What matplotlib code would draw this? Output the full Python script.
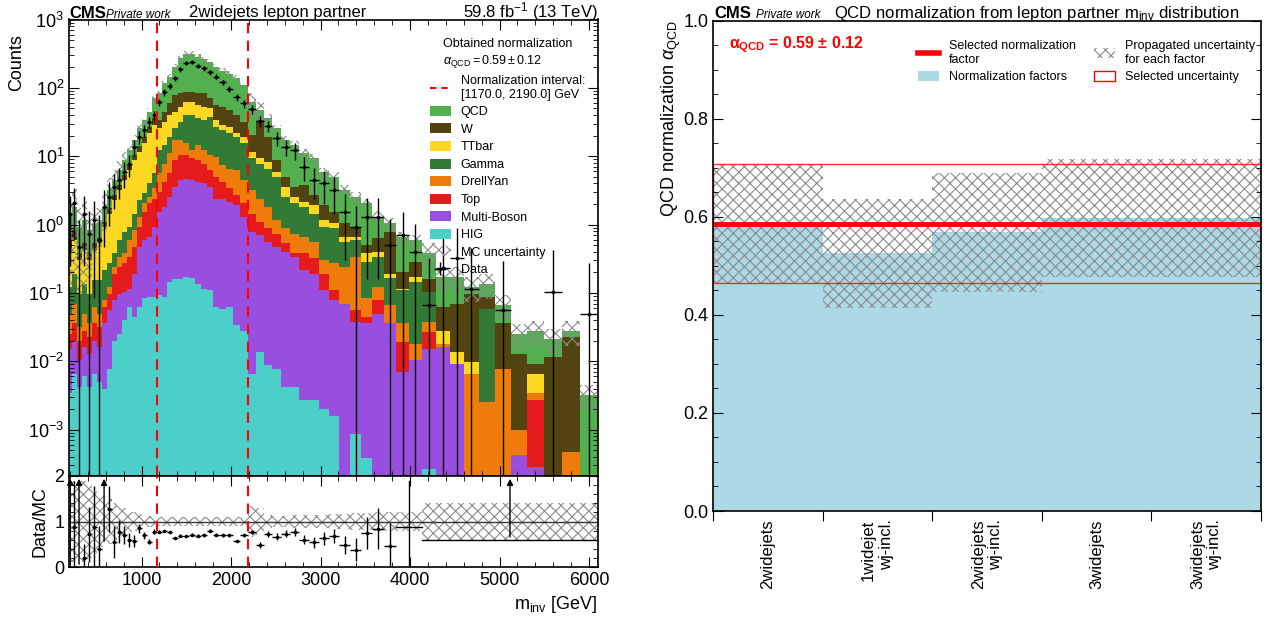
import numpy as np
import matplotlib
matplotlib.use("Agg")
import matplotlib.pyplot as plt
from matplotlib.patches import Patch
from matplotlib.lines import Line2D
from matplotlib.ticker import MultipleLocator, LogLocator, NullFormatter, FixedLocator

plt.rcParams.update({
    'font.family': ['Liberation Sans', 'DejaVu Sans'],
    'mathtext.fontset': 'custom',
    'mathtext.rm': 'Liberation Sans',
    'mathtext.it': 'Liberation Sans:italic',
    'mathtext.bf': 'Liberation Sans:bold',
    'mathtext.sf': 'Liberation Sans',
    'hatch.linewidth': 0.8,
    'xtick.direction': 'in', 'ytick.direction': 'in',
    'xtick.top': True, 'ytick.right': True,
    'xtick.major.size': 7, 'ytick.major.size': 7,
    'xtick.minor.size': 3.5, 'ytick.minor.size': 3.5,
    'xtick.labelsize': 13, 'ytick.labelsize': 13,
    'axes.labelsize': 13,
    'axes.linewidth': 1.2,
})

# ---------------- left panel data ----------------
edges = [190, 218, 274, 330, 386, 442, 498, 554, 610, 666, 722, 778, 834, 890, 946, 1002,
         1058, 1114, 1170, 1226, 1284, 1344, 1404, 1466, 1530, 1594, 1660, 1728, 1798, 1870,
         1944, 2020, 2104, 2190, 2280, 2370, 2462, 2560, 2660, 2764, 2870, 2980, 3094, 3210,
         3330, 3454, 3580, 3710, 3846, 3986, 4134, 4286, 4442, 4602, 4770, 4944, 5124, 5310,
         5500, 5694, 5894, 6100]

# cumulative stack levels (top of each process after stacking), bottom -> top
lvl_hig = [0.0034, 0.0066, 0.0042, 0.006, 0.0042, 0.0066, 0.0050, 0.0040, 0.0078, 0.020,
           0.025, 0.040, 0.062, 0.045, 0.062, 0.083, 0.087, 0.087, 0.092, 0.087,
           0.145, 0.162, 0.162, 0.17, 0.168, 0.137, 0.116, 0.110, 0.062, 0.059,
           0.062, 0.034, 0.028, 0.0066, 0.0137, 0.0087, 0.0078, 0.0042, 0.0042, 0.0027,
           0.0027, 0.0020, 0.0016, 0, 0.00087, 0.00038, 0, 0, 0, 0,
           0.00027, 0, 0, 0, 0, 0, 0, 0, 0, 0, 0]
lvl_mb = [0.015, 0.020, 0.0103, 0.016, 0.013, 0.020, 0.016, 0.036, 0.056, 0.078,
          0.098, 0.104, 0.116, 0.19, 0.47, 0.59, 0.66, 0.93, 1.54, 1.82,
          2.55, 3.6, 4.5, 4.7, 4.5, 4.2, 4.0, 3.6, 2.4, 2.33,
          2.15, 1.92, 1.30, 0.78, 0.70, 0.56, 0.47, 0.40, 0.34, 0.215,
          0.19, 0.110, 0.078, 0.070, 0.038, 0.036, 0.050, 0.036, 0.0070, 0.0103,
          0.015, 0.016, 0.0092, 0, 0, 0, 0.00042, 0.00028, 0, 0, 0]
lvl_top = [0.025, 0.036, 0.020, 0.028, 0.023, 0.036, 0.032, 0.0625, 0.098, 0.19,
           0.24, 0.27, 0.34, 0.47, 0.93, 1.54, 2.04, 2.4, 3.0, 4.2,
           5.6, 8.8, 10.4, 10.4, 9.3, 8.8, 7.8, 6.3, 5.0, 4.2,
           3.4, 2.7, 2.04, 1.45, 1.10, 0.88, 0.74, 0.53, 0.38, 0.38,
           0.32, 0.19, 0.110, 0.070, 0.056, 0.045, 0.078, 0.036, 0.019, 0.0103,
           0.027, 0.016, 0.0092, 0, 0, 0, 0.00042, 0.0027, 0, 0, 0]
lvl_dy = [0.05, 0.070, 0.032, 0.050, 0.036, 0.062, 0.050, 0.078, 0.122, 0.24,
          0.34, 0.38, 0.59, 0.83, 1.30, 2.04, 2.55, 3.4, 5.6, 7.8,
          11.0, 17.2, 17.2, 15.4, 12.3, 14.6, 12.3, 10.4, 9.8, 7.4,
          6.6, 6.3, 4.5, 3.2, 2.4, 1.82, 1.16, 0.88, 0.74, 0.66,
          0.56, 0.30, 0.27, 0.24, 0.34, 0.083, 0.122, 0.066, 0.036, 0.018,
          0.038, 0.018, 0.0092, 0.0066, 0.0025, 0.0078, 0.0010, 0.0034, 0, 0.00047, 0]
lvl_gamma = [0.122, 0.19, 0.098, 0.137, 0.098, 0.153, 0.153, 0.215, 0.27, 0.38,
             0.59, 0.78, 0.93, 1.45, 2.28, 2.85, 4.0, 5.6, 12.3, 14.6,
             19.3, 25.5, 31.9, 40, 40, 35.7, 33.8, 37.8, 27.0, 24.1,
             21.6, 19.3, 15.4, 9.3, 7.8, 6.6, 5.0, 2.55, 2.04, 1.82,
             1.45, 0.93, 0.88, 0.56, 0.59, 0.285, 0.34, 0.168, 0.110, 0.145,
             0.104, 0.018, 0.0092, 0.0066, 0.059, 0.0078, 0.0010, 0.0034, 0, 0.00047, 0]
lvl_tt = [0.38, 0.59, 0.30, 0.43, 0.30, 0.43, 0.53, 0.93, 1.45, 2.28,
          3.2, 4.5, 6.3, 8.8, 11.6, 15.4, 21.6, 28.5, 25.5, 31.9,
          40, 44.8, 53, 62.7, 62.7, 56, 53, 50, 33.8, 28.5,
          27.0, 21.6, 19.3, 11.6, 9.3, 8.3, 5.9, 3.6, 2.55, 2.15,
          1.92, 1.16, 1.04, 0.66, 0.66, 0.38, 0.40, 0.19, 0.116, 0.17,
          0.104, 0.028, 0.0137, 0.0098, 0.059, 0.0078, 0.0010, 0.0066, 0, 0.00047, 0]
lvl_w = [0.59, 0.83, 0.38, 0.53, 0.38, 0.53, 0.63, 1.10, 1.72, 2.7,
         3.8, 5.3, 7.4, 10.4, 14.2, 19.3, 26.5, 35.7, 33.8, 44.8,
         59.3, 78.5, 83, 88, 88, 83, 83, 70, 56, 53,
         47.3, 40, 31.9, 20.4, 33.8, 19.3, 8.8, 5.0, 3.6, 3.8,
         2.7, 1.92, 1.54, 1.04, 0.93, 0.50, 0.63, 0.78, 0.20, 0.285,
         0.162, 0.0625, 0.070, 0.098, 0.087, 0.036, 0.013, 0.0092, 0.0116, 0.023, 0]
lvl_qcd = [1.30, 1.82, 0.93, 1.16, 0.83, 1.04, 1.10, 1.82, 3.2, 4.5,
           6.3, 8.8, 12.3, 17.2, 25.5, 33.8, 44.8, 70, 83, 116,
           146, 204, 270, 313, 313, 286, 261, 241, 204, 178,
           159, 138, 110, 62.7, 47.3, 35.7, 25.5, 17.2, 14.6, 11.0,
           9.3, 5.9, 5.0, 3.2, 2.55, 2.04, 1.30, 1.04, 0.66, 0.59,
           0.38, 0.17, 0.17, 0.122, 0.137, 0.066, 0.025, 0.028, 0.021, 0.028, 0.0032]

data_counts = [1.45, 2.04, 0.47, 1.45, 0.74, 1.16, 0.59, 1.82, 2.55, 3.6,
               4.5, 5.9, 7.8, 13.7, 19.3, 24.1, 31.9, 40, 61.2, 86,
               107, 138, 187, 228, 236, 208, 193, 169, 146, 120,
               96, 72.6, 59.3, 48.4, 32.7, 27.6, 18.2, 13.7, 12.3, 7.0,
               4.5, 4.0, 3.2, 1.54, 0.93, 1.30, 1.30, 0.50, 0.70, 0.40,
               0.066, 0.23, 0.32, 0.116, 0, 0.056, 0, 0, 0.104, 0, 0.050]

mc_rel_unc = [0.9, 0.9, 0.9, 0.9, 0.8, 0.7, 0.6, 0.55, 0.5, 0.4,
              0.35, 0.3, 0.22, 0.2, 0.17, 0.15, 0.13, 0.12, 0.1, 0.1,
              0.1, 0.1, 0.1, 0.1, 0.1, 0.1, 0.1, 0.1, 0.1, 0.1,
              0.1, 0.1, 0.1, 0.35, 0.3, 0.15, 0.13, 0.13, 0.14, 0.15,
              0.15, 0.15, 0.16, 0.17, 0.18, 0.18, 0.2, 0.2, 0.2, 0.2,
              0.4, 0.4, 0.4, 0.4, 0.4, 0.4, 0.4, 0.4, 0.4, 0.4, 0.4]

# ratio panel, per bin from the first bin
ratio_vals = [3.0, 0.88, 3.0, 0.20, 0.72, 0.88, 0.40, 3.0, 1.27, 0.55,
              0.78, 0.70, 0.60, 0.58, 0.85, 0.70, 0.56, 0.78, 0.78, 0.79,
              0.77, 0.64, 0.69, 0.68, 0.71, 0.69, 0.70, 0.80, 0.71, 0.70,
              0.70, 0.57, 0.70, 0.77, 0.48, 0.73, 0.67, 0.73, 0.77, 0.60,
              0.54, 0.63, 0.68, 0.48, 0.38, 0.75, 0.84, 0.46]
ratio_errs = [3.0, 1.0, 3.0, 0.3, 0.6, 0.9, 0.5, 2.5, 0.5, 0.35,
              0.25, 0.2, 0.15, 0.13, 0.1, 0.08, 0.06, 0.05, 0.03, 0.03,
              0.03, 0.03, 0.03, 0.03, 0.03, 0.03, 0.03, 0.03, 0.03, 0.03,
              0.03, 0.03, 0.03, 0.05, 0.06, 0.06, 0.07, 0.08, 0.08, 0.1,
              0.12, 0.14, 0.15, 0.2, 0.25, 0.35, 0.45, 0.5]
# merged tail bins of the ratio panel
ratio_tail_lo = [3846, 4134]
ratio_tail_hi = [4134, 6100]
ratio_tail_val = [0.88, 0.60]
ratio_tail_err_dn = [0.88, 0.0]
ratio_tail_err_up = [1.0, 5.0]

norm_interval = [1170.0, 2190.0]

processes = ['HIG', 'Multi-Boson', 'Top', 'DrellYan', 'Gamma', 'TTbar', 'W', 'QCD']
colors = ['#4ccfc9', '#9a4ee0', '#e41a1c', '#ef7b0b', '#337a37', '#fcd920', '#524310', '#52b04f']
levels = [lvl_hig, lvl_mb, lvl_top, lvl_dy, lvl_gamma, lvl_tt, lvl_w, lvl_qcd]

# ---------------- right panel data ----------------
categories = ['2widejets', '1widejet\nwj-incl.', '2widejets\nwj-incl.', '3widejets', '3widejets\nwj-incl.']
norm_factors = [0.586, 0.525, 0.568, 0.597, 0.597]
norm_unc = [0.122, 0.112, 0.122, 0.120, 0.120]
selected_norm = 0.586
selected_unc = 0.122

# ---------------- figure ----------------
W, H = 1285, 618
fig = plt.figure(figsize=(W / 100, H / 100), dpi=100)

def box(x0, y0, x1, y1):
    return [x0 / W, 1 - y1 / H, (x1 - x0) / W, (y1 - y0) / H]

ax = fig.add_axes(box(69, 19.5, 598, 476))
rax = fig.add_axes(box(69, 476, 598, 567), sharex=ax)
bx = fig.add_axes(box(713, 20.5, 1261, 511))

e = np.array(edges, float)
centers = 0.5 * (e[1:] + e[:-1])
halfw = 0.5 * (e[1:] - e[:-1])

floor = 1e-7
prev = np.full(len(centers), floor)
for lv, col in zip(levels, colors):
    top = np.maximum(np.array(lv, float), prev)
    ax.stairs(top, e, baseline=prev, fill=True, color=col, lw=0)
    prev = top
total = prev
unc = np.array(mc_rel_unc)
lo = total * (1 - unc)
hi = total * (1 + unc)
ax.fill_between(e, np.append(lo, lo[-1]), np.append(hi, hi[-1]), step='post',
                facecolor='none', edgecolor='#8a8a8a', hatch='xxx', lw=0)

d = np.array(data_counts, float)
m = d > 0
derr = np.sqrt(d[m])
dlo = np.minimum(derr, d[m] - 1e-6)
eb = ax.errorbar(centers[m], d[m], xerr=halfw[m], yerr=[dlo, derr], fmt='o', ms=1.6,
                 color='k', lw=1, capsize=0)

for xv in norm_interval:
    ax.axvline(xv, color='red', ls=(0, (5, 3.5)), lw=1.5, zorder=5)
    rax.axvline(xv, color='red', ls=(0, (5, 3.5)), lw=1.5, zorder=5)

ax.set_yscale('log')
ax.set_ylim(2.1e-4, 1e3)
ax.set_xlim(190, 6100)
ax.yaxis.set_major_locator(FixedLocator([1e-3, 1e-2, 1e-1, 1e0, 1e1, 1e2, 1e3]))
ax.yaxis.set_minor_locator(LogLocator(base=10, subs=np.arange(2, 10), numticks=50))
ax.yaxis.set_minor_formatter(NullFormatter())
ax.xaxis.set_major_locator(FixedLocator([1000, 2000, 3000, 4000, 5000, 6000]))
ax.xaxis.set_minor_locator(MultipleLocator(200))
ax.tick_params(axis='x', which='both', labelbottom=False)
ax.set_ylabel('Counts', loc='top', labelpad=2)
ax.yaxis.label.set_y(0.968)

# legend left
leg_handles = [Line2D([], [], color='red', ls=(0, (3, 2.5)), lw=1.5)]
leg_labels = ['Normalization interval:\n[1170.0, 2190.0] GeV']
for p, c in zip(processes[::-1], colors[::-1]):
    leg_handles.append(Patch(facecolor=c, edgecolor='none'))
    leg_labels.append(p)
leg_handles.append(Patch(facecolor='none', edgecolor='#8a8a8a', hatch='xxx', lw=0))
leg_labels.append('MC uncertainty')
leg_handles.append(eb)
leg_labels.append('Data')
ax.legend(leg_handles, leg_labels, loc='upper right', bbox_to_anchor=(0.99, 0.975),
          fontsize=9, title='Obtained normalization\n$\\alpha_{\\mathrm{QCD}} = 0.59 \\pm 0.12$',
          title_fontsize=9, frameon=False, handlelength=1.7, handleheight=0.85,
          labelspacing=0.42, handletextpad=0.8, borderaxespad=0.2)

# ratio
r = np.array(ratio_vals)
re = np.array(ratio_errs)
nr = len(r)
cr = centers[:nr]
hr = halfw[:nr]
inr = r <= 2
rax.fill_between(e, np.append(1 - unc, 1 - unc[-1]), np.append(1 + unc, 1 + unc[-1]), step='post',
                 facecolor='none', edgecolor='#8a8a8a', hatch='xxx', lw=0)
rax.axhline(1, color='#333333', lw=1)
rax.errorbar(cr[inr], r[inr], xerr=hr[inr], yerr=re[inr], fmt='o', ms=1.6, color='k', lw=1, capsize=0)
for xv, v, ev in zip(cr[~inr], r[~inr], re[~inr]):
    rax.annotate('', xy=(xv, 2.0), xytext=(xv, max(v - ev, 0.0)),
                 arrowprops=dict(arrowstyle='-|>', color='k', lw=1, mutation_scale=9))
for l0, l1, v, edn, eup in zip(ratio_tail_lo, ratio_tail_hi, ratio_tail_val, ratio_tail_err_dn, ratio_tail_err_up):
    xc = 0.5 * (l0 + l1)
    rax.plot([l0, l1], [v, v], color='k', lw=1)
    if v + eup > 2:
        rax.plot([xc, xc], [v - edn, v], color='k', lw=1)
        rax.annotate('', xy=(xc, 2.0), xytext=(xc, v),
                     arrowprops=dict(arrowstyle='-|>', color='k', lw=1, mutation_scale=9))
    else:
        rax.plot([xc, xc], [v - edn, v + eup], color='k', lw=1)
rax.set_ylim(0, 2)
rax.yaxis.set_major_locator(FixedLocator([0, 1, 2]))
rax.yaxis.set_minor_locator(MultipleLocator(0.2))
rax.set_ylabel('Data/MC', labelpad=4)
rax.set_xlabel('m$_{\\mathrm{inv}}$ [GeV]', loc='right')
rax.tick_params(axis='x', which='both', labelbottom=True)

# titles left
fig.text(69 / W, 1 - 17.5 / H, 'CMS', fontsize=12, fontweight='bold', va='baseline', ha='left')
fig.text(106 / W, 1 - 17.5 / H, 'Private work', fontsize=8.5, style='italic', va='baseline', ha='left')
fig.text(189 / W, 1 - 17.5 / H, '2widejets lepton partner', fontsize=12, va='baseline', ha='left')
fig.text(598 / W, 1 - 17.5 / H, '59.8 fb$^{-1}$ (13 TeV)', fontsize=12, va='baseline', ha='right')

# ---------------- right panel ----------------
xs = np.arange(len(categories))
nf = np.array(norm_factors)
nu = np.array(norm_unc)
bx.bar(xs, nf, width=1.0, color='#add8e6', lw=0)
bx.bar(xs, 2 * nu, bottom=nf - nu, width=1.0, facecolor='none', edgecolor='#8a8a8a', hatch='xxx', lw=0)
bx.axhspan(selected_norm - selected_unc, selected_norm + selected_unc, facecolor='none',
           edgecolor='red', lw=1, alpha=0.8)
bx.axhline(selected_norm, color='red', lw=3.5)
bx.set_xlim(-0.5, len(categories) - 0.5)
bx.set_ylim(0, 1)
bx.yaxis.set_major_locator(FixedLocator([0.0, 0.2, 0.4, 0.6, 0.8, 1.0]))
bx.yaxis.set_minor_locator(MultipleLocator(0.05))
bx.yaxis.set_major_formatter(matplotlib.ticker.FormatStrFormatter('%.1f'))
bx.set_xticks(np.arange(-0.5, len(categories)), labels=[''] * (len(categories) + 1))
bx.set_xticks(xs, labels=categories, minor=True)
bx.tick_params(axis='x', which='major', direction='out', length=7, top=False)
bx.tick_params(axis='x', which='minor', length=0, top=False, labelsize=12, pad=6)
for lbl in bx.get_xticklabels(minor=True):
    lbl.set_rotation(90)
    lbl.set_multialignment('right')
bx.set_ylabel('QCD normalization $\\alpha_{\\mathrm{QCD}}$', loc='top', labelpad=0)

bx.text(0.03, 0.95, 'α$_\\mathbf{QCD}$ = 0.59 ± 0.12', transform=bx.transAxes, color='red',
        fontsize=11.5, fontweight='bold', va='center', ha='left')
r_handles = [Line2D([], [], color='red', lw=4), Patch(facecolor='#add8e6', edgecolor='none'),
             Patch(facecolor='none', edgecolor='#8a8a8a', hatch='xxx', lw=0),
             Patch(facecolor='none', edgecolor='red', lw=1)]
r_labels = ['Selected normalization\nfactor', 'Normalization factors',
            'Propagated uncertainty\nfor each factor', 'Selected uncertainty']
bx.legend(r_handles, r_labels, ncol=2, loc='upper left', bbox_to_anchor=(0.36, 0.975),
          fontsize=9, frameon=False, handlelength=1.7, handleheight=0.85, labelspacing=0.4,
          handletextpad=0.8, columnspacing=1.4, borderaxespad=0.2)

fig.text(714 / W, 1 - 18 / H, 'CMS', fontsize=12, fontweight='bold', va='baseline', ha='left')
fig.text(756 / W, 1 - 18 / H, 'Private work', fontsize=8.5, style='italic', va='baseline', ha='left')
fig.text(834 / W, 1 - 18 / H, 'QCD normalization from lepton partner m$_{\\mathrm{inv}}$ distribution',
         fontsize=12, va='baseline', ha='left')

fig.savefig('out.png', dpi=100)
